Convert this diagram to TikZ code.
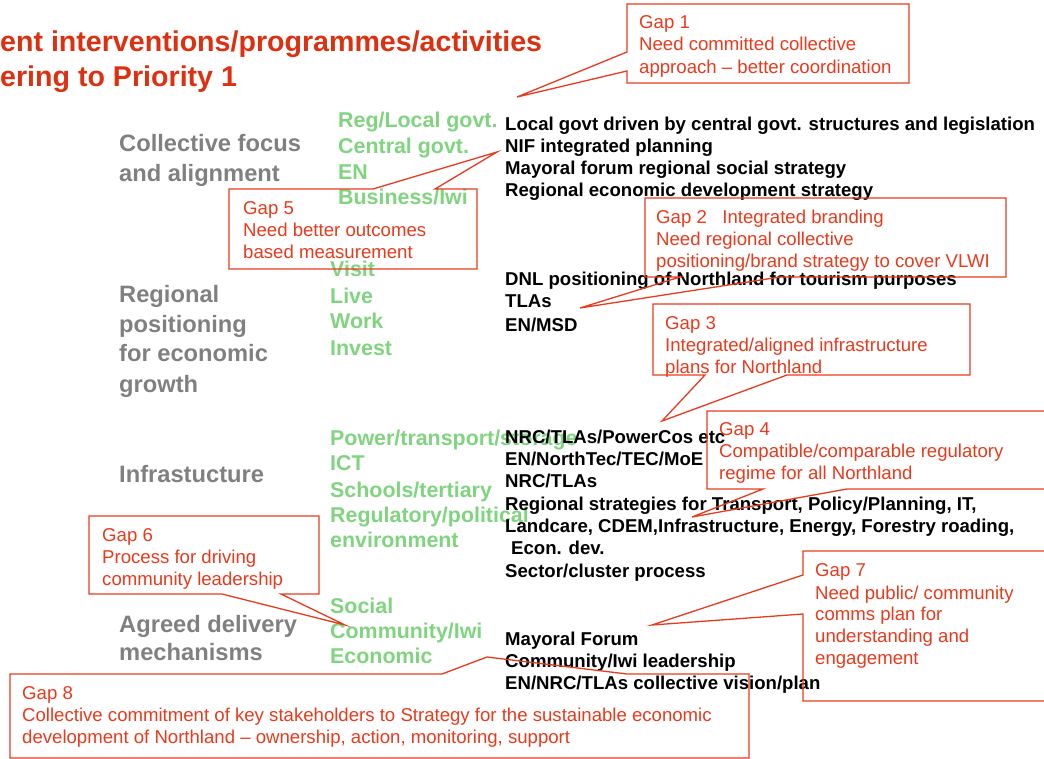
\documentclass[tikz,border=0pt]{standalone}
\usepackage{fontspec}
\setmainfont{Liberation Sans}
\definecolor{gapred}{RGB}{232,58,28}
\definecolor{titlered}{RGB}{221,48,16}
\definecolor{leafgreen}{RGB}{128,212,128}
\definecolor{areagrey}{RGB}{128,128,128}
\begin{document}
\begin{tikzpicture}[x=1pt,y=-1pt,line join=miter,
    title/.style={anchor=base west,inner sep=0,text=titlered,font=\bfseries\fontsize{28.6}{32}\selectfont},
    area/.style={anchor=base west,inner sep=0,text=areagrey,font=\bfseries\fontsize{23.7}{27}\selectfont},
    who/.style={anchor=base west,inner sep=0,text=leafgreen,font=\bfseries\fontsize{21.4}{24}\selectfont},
    act/.style={anchor=base west,inner sep=0,font=\bfseries\fontsize{18.6}{21}\selectfont},
    gaptext/.style={anchor=base west,inner sep=0,text=gapred,font=\fontsize{18.6}{21}\selectfont},
    callout/.style={draw=gapred,line width=1.3pt}]
\useasboundingbox (0,0) rectangle (1044,759);
\clip (0,0) rectangle (1044,759);
% heading
\node[title] (title1) at (0,52) {ent interventions/programmes/activities};
\node[title] (title2) at (0,87) {ering to Priority 1};
% focus areas
\foreach \y/\t [count=\i] in {152/Collective focus,182/and alignment,302/Regional,332/positioning,
    361/for economic,392/growth,482/Infrastucture,632/Agreed delivery,660/mechanisms}
  \node[area] (area-\i) at (119,\y) {\t};
% who is involved
\foreach \x/\y/\t [count=\i] in {338/128/{Reg/Local govt.},338/154/{Central govt.},338/180/{EN},338/205/{Business/Iwi},
    330/277/{Visit},330/304/{Live},330/328/{Work},330/355/{Invest},
    330/445/{Power/transport/storage},330/470/{ICT},330/497/{Schools/tertiary},330/522/{Regulatory/political},330/547/{environment},
    330/613/{Social},330/638/{Community/Iwi},330/663/{Economic}}
  \node[who] (who-\i) at (\x,\y) {\t};
% current activities
\foreach \x/\y/\t [count=\i] in {505/131/{Local govt driven by central govt. structures and legislation},
    505/153/{NIF integrated planning},505/175/{Mayoral forum regional social strategy},505/197/{Regional economic development strategy},
    505/286/{DNL positioning of Northland for tourism purposes},505/308/{TLAs},505/331/{EN/MSD},
    505/443/{NRC/TLAs/PowerCos etc},505/465/{EN/NorthTec/TEC/MoE},505/487/{NRC/TLAs},
    505/510/{Regional strategies for Transport, Policy/Planning, IT,},
    505/532/{Landcare, CDEM,Infrastructure, Energy, Forestry roading,},511/554/{Econ. dev.},
    505/577/{Sector/cluster process},
    505/645/{Mayoral Forum},505/667/{Community/Iwi leadership},505/689/{EN/NRC/TLAs collective vision/plan}}
  \node[act] (act-\i) at (\x,\y) {\t};
% gap texts
\foreach \x/\y/\t [count=\i] in {639/29/{Gap 1},639/51/{Need committed collective},639/74/{approach – better coordination},
    656/224/{Gap 2\ \ \ Integrated branding},656/246/{Need regional collective},656/268/{positioning/brand strategy to cover VLWI},
    665/330/{Gap 3},665/352/{Integrated/aligned infrastructure},665/373/{plans for Northland},
    719/435/{Gap 4},719/457/{Compatible/comparable regulatory},719/479/{regime for all Northland},
    243/215/{Gap 5},243/237/{Need better outcomes},243/259/{based measurement},
    102/541/{Gap 6},102/563/{Process for driving},102/585/{community leadership},
    815/576/{Gap 7},815/599/{Need public/ community},815/620/{comms plan for},815/642/{understanding and},815/664/{engagement},
    22/699/{Gap 8},22/721/{Collective commitment of key stakeholders to Strategy for the sustainable economic},
    22/743/{development of Northland – ownership, action, monitoring, support}}
  \node[gaptext] (gap-\i) at (\x,\y) {\t};
% callout tips
\path (517,97) coordinate (tip1)
      (580,308) coordinate (tip2)
      (662,421) coordinate (tip3)
      (692,517) coordinate (tip4)
      (497,152) coordinate (tip5)
      (345,625) coordinate (tip6)
      (652,625) coordinate (tip7)
      (487,657) coordinate (tip8);
% callouts
\draw[callout] (627,4) -- (909,4) -- (909,83) -- (627,83) -- (627,71) -- (tip1) -- (627,52) -- cycle;
\draw[callout] (645,198) -- (1006,198) -- (1006,277) -- (780,277) -- (tip2) -- (680,277) -- (645,277) -- cycle;
\draw[callout] (653,304) -- (970,304) -- (970,375) -- (787,375) -- (tip3) -- (705,375) -- (653,375) -- cycle;
\draw[callout] (1060,411) -- (707,411) -- (707,489) -- (763,489) -- (tip4) -- (847,489) -- (1060,489);
\draw[callout] (229,189) -- (373,189) -- (tip5) -- (435,189) -- (477,189) -- (477,269) -- (229,269) -- cycle;
\draw[callout] (89,516) -- (319,516) -- (319,594) -- (281,594) -- (tip6) -- (222,594) -- (89,594) -- cycle;
\draw[callout] (1060,551) -- (803,551) -- (803,575) -- (tip7) -- (803,614) -- (803,701) -- (1060,701);
\draw[callout] (10,674) -- (442,674) -- (tip8) -- (627,674) -- (749,674) -- (749,758) -- (10,758) -- cycle;
\end{tikzpicture}
\end{document}
